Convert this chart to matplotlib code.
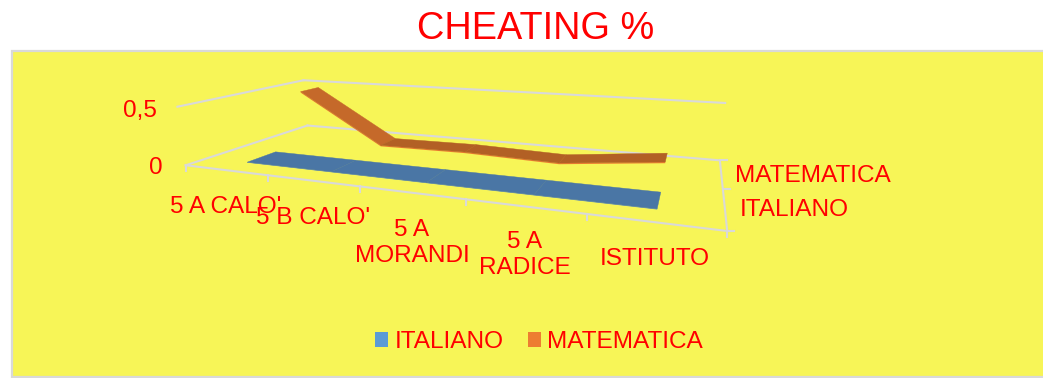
"""CHEATING % - 3D ribbon line chart, projected by hand onto a pixel-scaled axes."""
import numpy as np
import matplotlib
matplotlib.use("Agg")
import matplotlib.pyplot as plt
from matplotlib.patches import Patch, Polygon, Rectangle

plt.rcParams["font.family"] = ["Liberation Sans", "DejaVu Sans"]

# ── Data ─────────────────────────────────────────────
CATEGORIES = ["5 A CALO'", "5 B CALO'", "5 A\nMORANDI", "5 A\nRADICE", "ISTITUTO"]
ITALIANO = [0.0, 0.0, 0.0, 0.0, 0.0]
MATEMATICA = [0.49, 0.03, 0.04, 0.02, 0.11]
SERIES_NAMES = ["ITALIANO", "MATEMATICA"]
VALUE_TICKS = [0, 0.5]
VALUE_LABELS = ["0", "0,5"]

# ── Style ────────────────────────────────────────────
RED = "#ff0000"
YELLOW = "#f7f557"
GRID = "#d9d9d9"
LEGEND_COLORS = ["#5b9bd5", "#ed7d31"]
FONT = 17.6

# Camera calibration: (u along categories, v depth, w value/0.5) -> pixel
CALIB = [
    ((0, 0, 0), (186, 165)), ((1, 0, 0), (727, 231)), ((0, 1, 0), (307, 126)),
    ((1, 1, 0), (720, 160)), ((0, 0, 1), (177, 107)), ((0, 1, 1), (304, 80)),
    ((1, 1, 1), (725, 103)), ((0.2, 0, 0), (268, 175)), ((0.4, 0, 0), (360, 186)),
    ((0.6, 0, 0), (466, 199)), ((0.8, 0, 0), (587, 215)),
]


def fit_camera(calib):
    rows, rhs = [], []
    for (u, v, w), (x, y) in calib:
        rows.append([u, v, w, 1, 0, 0, 0, 0, -x * u, -x * v, -x * w])
        rows.append([0, 0, 0, 0, u, v, w, 1, -y * u, -y * v, -y * w])
        rhs += [x, y]
    p = np.linalg.lstsq(np.array(rows, float), np.array(rhs, float), rcond=None)[0]
    return np.append(p, 1).reshape(3, 4)


CAM = fit_camera(CALIB)


def project(u, v, w):
    x, y, s = CAM @ np.array([u, v, w, 1.0])
    return x / s, y / s


def line3d(ax, a, b):
    (x0, y0), (x1, y1) = project(*a), project(*b)
    ax.plot([x0, x1], [y0, y1], color=GRID, lw=1.5, solid_capstyle="projecting", zorder=2)


def ribbon(ax, values, v0, v1, top_colors, edge_color, thick):
    n = len(values)
    scale = VALUE_TICKS[-1]
    for i in range(n - 1):
        u0, u1 = (i + 0.5) / n, (i + 1.5) / n
        w0, w1 = values[i] / scale, values[i + 1] / scale
        front = [project(u0, v0, w0 - thick), project(u1, v0, w1 - thick),
                 project(u1, v0, w1), project(u0, v0, w0)]
        ax.add_patch(Polygon(front, closed=True, fc=edge_color, ec="none", zorder=3))
        top = [project(u0, v0, w0), project(u1, v0, w1),
               project(u1, v1, w1), project(u0, v1, w0)]
        color = top_colors[min(i, len(top_colors) - 1)]
        ax.add_patch(Polygon(top, closed=True, fc=color, ec=color, lw=0.3, zorder=4))


fig = plt.figure(figsize=(10.43, 3.78), dpi=100, facecolor="white")
ax = fig.add_axes([0, 0, 1, 1])
ax.set_xlim(0, 1043)
ax.set_ylim(378, 0)
ax.axis("off")

ax.add_patch(Rectangle((12, 51), 1040, 326, fc=YELLOW, ec=GRID, lw=1.6, zorder=0))
ax.text(536, 29, "CHEATING %", color=RED, fontsize=27.3, ha="center", va="center")

# walls and floor
line3d(ax, (0, 0, 1), (0, 1, 1))
line3d(ax, (0, 1, 1), (1, 1, 1))
line3d(ax, (0, 0, 0), (0, 1, 0))
line3d(ax, (0, 1, 0), (1, 1, 0))
line3d(ax, (0, 0, 0), (1, 0, 0))
line3d(ax, (1, 0, 0), (1, 1, 0))

# category ticks along the front edge
n_cat = len(CATEGORIES)
for i in range(n_cat + 1):
    x, y = project(i / n_cat, 0, 0)
    ax.plot([x, x], [y, y + 6], color=GRID, lw=1.5, zorder=2)
# depth ticks along the right edge
for v in [0, 0.5, 1]:
    x, y = project(1, v, 0)
    ax.plot([x, x + 7], [y, y], color=GRID, lw=1.5, zorder=2)

ribbon(ax, ITALIANO, 0.15, 0.37, ["#4a76a5"], "#5b8fc4", 0.008)
ribbon(ax, MATEMATICA, 0.63, 0.80, ["#c5692a", "#b26025"], "#ed7d31", 0.02)

# category labels sit by hand where the 3D renderer put them
CAT_POS = [(226, 207), (313, 218), (412, 243), (525, 255), (655, 259)]
for name, (x, y) in zip(CATEGORIES, CAT_POS):
    ax.text(x, y, name, color=RED, fontsize=FONT, ha="center", va="center",
            linespacing=1.22, zorder=5)
for label, (x, y) in zip(VALUE_LABELS, [(163, 168), (157, 111)]):
    ax.text(x, y, label, color=RED, fontsize=FONT, ha="right", va="center", zorder=5)
ax.text(735, 176, SERIES_NAMES[1], color=RED, fontsize=FONT, ha="left", va="center", zorder=5)
ax.text(740, 210, SERIES_NAMES[0], color=RED, fontsize=FONT, ha="left", va="center", zorder=5)

handles = [Patch(fc=c, ec="none") for c in LEGEND_COLORS]
ax.legend(handles, SERIES_NAMES, loc="center", bbox_to_anchor=(539, 342),
          bbox_transform=ax.transData, ncol=2, frameon=False, fontsize=FONT,
          labelcolor=RED, handlelength=0.55, handleheight=0.55,
          handletextpad=0.25, columnspacing=1.0, borderpad=0)

fig.savefig("out.png", dpi=100)
